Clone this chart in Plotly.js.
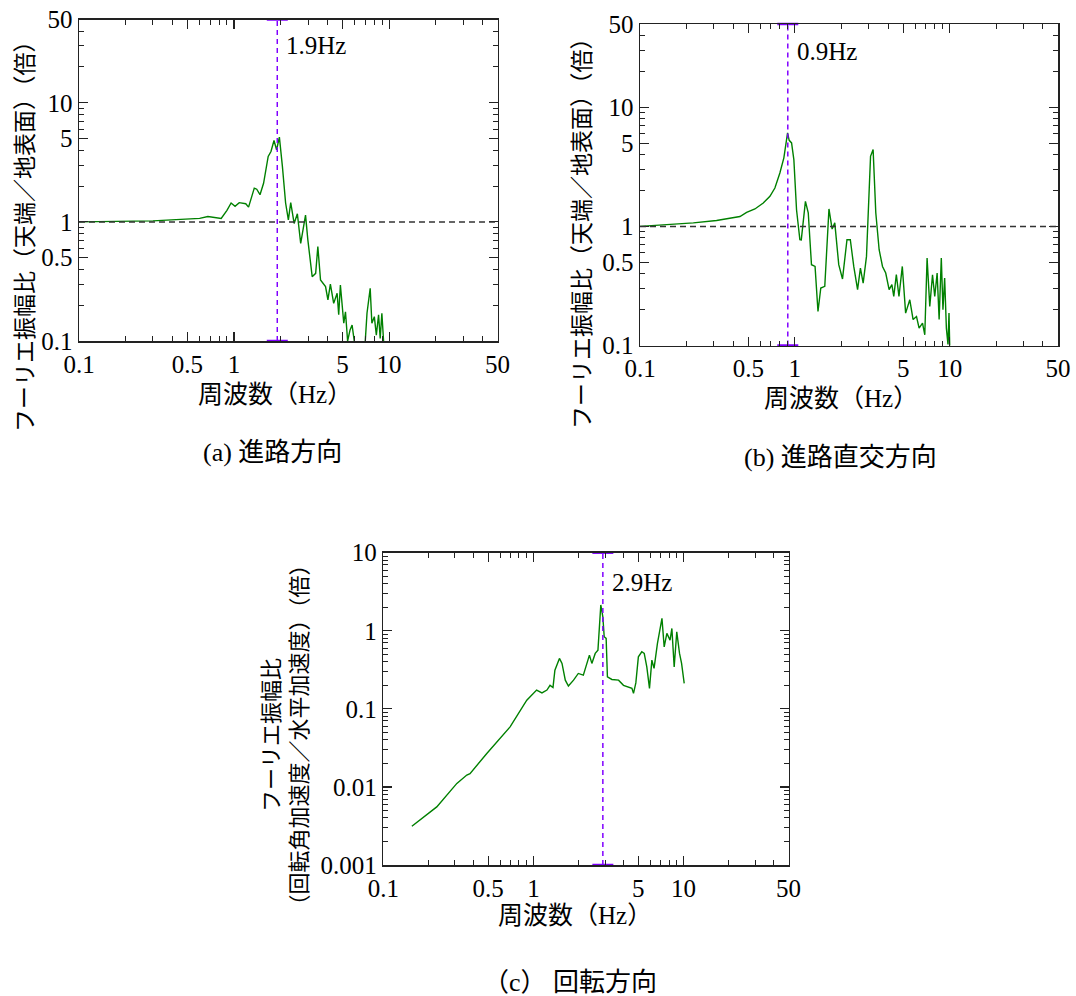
<!DOCTYPE html>
<html><head><meta charset="utf-8">
<script src="https://cdn.plot.ly/plotly-3.0.1.min.js"></script>
<style>html,body{margin:0;padding:0;background:#fff}</style>
</head><body>
<div id="chart" style="width:1076px;height:996px"></div>
<script>
// ---- data ----
const freqA = [0.1, 0.2, 0.3, 0.394, 0.5, 0.6, 0.678, 0.75, 0.826, 0.9, 0.957, 1.015, 1.08, 1.19, 1.24, 1.3, 1.35, 1.40, 1.47, 1.55, 1.66, 1.73, 1.81, 1.88, 1.96, 2.05, 2.15, 2.24, 2.32, 2.44, 2.56, 2.69, 2.89, 2.99, 3.19, 3.36, 3.47, 3.61, 3.89, 4.03, 4.18, 4.39, 4.62, 4.73, 4.85, 5.10, 5.23, 5.40, 5.60, 5.77, 5.96, 6.3, 6.7, 7.0, 7.20, 7.55, 7.74, 8.03, 8.27, 8.55, 8.76, 8.98, 9.21];
const ampA = [1.0, 1.01, 1.02, 1.04, 1.05, 1.07, 1.11, 1.09, 1.07, 1.25, 1.44, 1.35, 1.45, 1.42, 1.33, 1.63, 1.92, 1.88, 1.69, 2.11, 3.54, 3.90, 4.82, 4.03, 5.14, 2.92, 1.44, 1.04, 1.45, 0.97, 1.17, 0.66, 1.14, 0.71, 0.347, 0.37, 0.62, 0.326, 0.286, 0.221, 0.30, 0.207, 0.252, 0.166, 0.295, 0.141, 0.176, 0.1, 0.124, 0.136, 0.1, 0.085, 0.088, 0.095, 0.171, 0.277, 0.141, 0.16, 0.112, 0.166, 0.105, 0.171, 0.1];

const freqB = [0.1, 0.221, 0.312, 0.442, 0.488, 0.552, 0.625, 0.69, 0.743, 0.80, 0.849, 0.897, 0.919, 0.952, 0.985, 1.025, 1.077, 1.10, 1.17, 1.22, 1.28, 1.35, 1.41, 1.47, 1.56, 1.66, 1.74, 1.81, 1.92, 2.03, 2.17, 2.28, 2.40, 2.54, 2.65, 2.76, 2.90, 3.08, 3.20, 3.33, 3.50, 3.68, 3.86, 4.06, 4.23, 4.35, 4.52, 4.70, 4.94, 5.19, 5.52, 5.80, 6.10, 6.34, 6.67, 6.90, 7.14, 7.43, 7.74, 8.00, 8.29, 8.54, 8.82, 9.04, 9.27, 9.51, 9.74, 9.89, 10.0];
const ampB = [1.0, 1.07, 1.12, 1.21, 1.31, 1.40, 1.57, 1.79, 2.10, 2.81, 3.76, 6.09, 5.28, 5.02, 3.63, 1.38, 0.773, 0.77, 1.62, 1.30, 0.477, 0.461, 0.193, 0.304, 0.314, 1.40, 0.95, 1.07, 0.477, 0.362, 0.773, 0.773, 0.461, 0.294, 0.447, 0.334, 0.56, 3.87, 4.41, 1.30, 0.637, 0.461, 0.406, 0.294, 0.324, 0.258, 0.393, 0.258, 0.461, 0.187, 0.242, 0.165, 0.175, 0.14, 0.154, 0.123, 0.543, 0.213, 0.393, 0.258, 0.406, 0.165, 0.543, 0.2, 0.369, 0.14, 0.102, 0.187, 0.095];

const freqC = [0.155, 0.227, 0.309, 0.36, 0.378, 0.489, 0.699, 0.903, 1.05, 1.14, 1.23, 1.29, 1.35, 1.39, 1.49, 1.55, 1.63, 1.71, 1.85, 1.99, 2.15, 2.24, 2.36, 2.45, 2.58, 2.69, 2.81, 2.90, 2.96, 3.05, 3.11, 3.33, 3.69, 3.98, 4.30, 4.53, 4.64, 4.81, 5.0, 5.27, 5.47, 5.69, 5.93, 6.15, 6.36, 6.70, 7.18, 7.43, 7.74, 8.13, 8.36, 8.66, 9.01, 9.40, 9.70, 10.1];
const ampC = [0.00313, 0.00555, 0.0111, 0.0142, 0.0148, 0.0268, 0.0588, 0.129, 0.174, 0.16, 0.174, 0.20, 0.188, 0.313, 0.443, 0.382, 0.233, 0.196, 0.233, 0.284, 0.27, 0.363, 0.488, 0.382, 0.513, 0.565, 2.14, 1.51, 0.838, 0.80, 0.257, 0.238, 0.233, 0.20, 0.191, 0.183, 0.158, 0.215, 0.464, 0.538, 0.513, 0.345, 0.183, 0.421, 0.33, 0.69, 1.44, 0.62, 0.925, 0.76, 1.07, 0.345, 0.97, 0.513, 0.382, 0.212];

const peakA = 1.9, peakB = 0.9, peakC = 2.9;
const peakLabels = ['1.9Hz', '0.9Hz', '2.9Hz'];

const xTickVals = [0.1, 0.5, 1, 5, 10, 50];
const xTickText = ['0.1', '0.5', '1', '5', '10', '50'];
const yTickValsAB = [0.1, 0.5, 1, 5, 10, 50];
const yTickTextAB = ['0.1', '0.5', '1', '5', '10', '50'];
const yTickValsC = [0.001, 0.01, 0.1, 1, 10];
const yTickTextC = ['0.001', '0.01', '0.1', '1', '10'];

const xRange = [0.1, 50];
const yRangeAB = [0.1, 50];
const yRangeC = [0.001, 10];

const xTitle = '周波数（Hz）';
const yTitleAB = 'フーリエ振幅比（天端／地表面）（倍）';
const yTitleC = 'フーリエ振幅比<br>（回転角加速度／水平加速度）（倍）';
const captions = ['(a) 進路方向', '(b) 進路直交方向', '（c） 回転方向'];

// ---- helpers ----
function minorVals(lo, hi) {
  const v = [];
  for (let d = Math.floor(Math.log10(lo)); d <= Math.ceil(Math.log10(hi)); d++) {
    for (let k = 2; k <= 9; k++) {
      const t = k * Math.pow(10, d);
      if (t > lo && t < hi) v.push(t);
    }
  }
  return v;
}
const SERIF = 'Liberation Serif, Times New Roman, serif';
const JP = 'Liberation Serif, Noto Sans CJK JP, sans-serif';
const AXC = '#222';
function axis(domain, anchor, range, tv, tt) {
  return {
    type: 'log', domain: domain, anchor: anchor,
    range: [Math.log10(range[0]), Math.log10(range[1])],
    tickmode: 'array', tickvals: tv, ticktext: tt,
    ticks: 'inside', ticklen: 9, tickwidth: 1.2, tickcolor: AXC,
    showline: true, linecolor: AXC, linewidth: 1.5, mirror: 'ticks',
    showgrid: false, zeroline: false, automargin: false, fixedrange: true,
    tickfont: {family: SERIF, size: 25, color: '#000'},
    minor: {ticks: 'inside', ticklen: 5, tickwidth: 1, tickcolor: AXC,
            tickmode: 'array', tickvals: minorVals(range[0], range[1]), showgrid: false}
  };
}
const GREEN = '#008000';
const PURPLE = '#8000ff';
function dataTrace(x, y, xa, ya) {
  return {x: x, y: y, xaxis: xa, yaxis: ya, mode: 'lines', type: 'scatter',
          line: {color: GREEN, width: 1.4}, hoverinfo: 'skip'};
}
function peakTrace(p, yr, xa, ya) {
  return {x: [p, p], y: yr, xaxis: xa, yaxis: ya, mode: 'lines+markers', type: 'scatter',
          cliponaxis: false,
          line: {color: PURPLE, width: 1.5, dash: '5px,4px'},
          marker: {symbol: 'line-ew', size: 15, color: PURPLE, line: {color: PURPLE, width: 2.5}},
          hoverinfo: 'skip'};
}

const traces = [
  dataTrace(freqA, ampA, 'x', 'y'),
  dataTrace(freqB, ampB, 'x2', 'y2'),
  dataTrace(freqC, ampC, 'x3', 'y3'),
  peakTrace(peakA, yRangeAB, 'x', 'y'),
  peakTrace(peakB, yRangeAB, 'x2', 'y2'),
  peakTrace(peakC, yRangeC, 'x3', 'y3')
];

const W = 1076, H = 996;
const px = v => v / W, py = v => 1 - v / H;

function hline(xr, yr) {
  return {type: 'line', xref: xr + ' domain', x0: 0, x1: 1, yref: yr, y0: 1, y1: 1,
          line: {color: '#333', width: 1.5, dash: '6px,4px'}};
}
function peakNote(p, txt, xr, yr, yy) {
  return {xref: xr, yref: yr + ' domain', x: Math.log10(p), y: yy, text: txt,
          showarrow: false, xanchor: 'left', yanchor: 'middle', xshift: 7,
          font: {family: SERIF, size: 25, color: '#000'}};
}
function note(x, y, txt, size, angle) {
  return {xref: 'paper', yref: 'paper', x: px(x), y: py(y), text: txt, showarrow: false,
          xanchor: 'center', yanchor: 'middle', textangle: angle || 0,
          font: {family: JP, size: size, color: '#000'}};
}

const layout = {
  width: W, height: H, margin: {l: 0, r: 0, t: 0, b: 0},
  paper_bgcolor: '#fff', plot_bgcolor: '#fff', showlegend: false,
  xaxis: axis([px(79), px(497.5)], 'y', xRange, xTickVals, xTickText),
  yaxis: axis([py(341), py(19.5)], 'x', yRangeAB, yTickValsAB, yTickTextAB),
  xaxis2: axis([px(640), px(1058)], 'y2', xRange, xTickVals, xTickText),
  yaxis2: axis([py(345.5), py(24)], 'x2', yRangeAB, yTickValsAB, yTickTextAB),
  xaxis3: axis([px(383.3), px(788.5)], 'y3', xRange, xTickVals, xTickText),
  yaxis3: axis([py(865), py(552.7)], 'x3', yRangeC, yTickValsC, yTickTextC),
  shapes: [hline('x', 'y'), hline('x2', 'y2')],
  annotations: [
    peakNote(peakA, peakLabels[0], 'x', 'y', 0.92),
    peakNote(peakB, peakLabels[1], 'x2', 'y2', 0.915),
    peakNote(peakC, peakLabels[2], 'x3', 'y3', 0.905),
    note(275, 394, xTitle, 25),
    note(841, 398, xTitle, 25),
    note(575, 915, xTitle, 25),
    note(25, 231, yTitleAB, 23, -90),
    note(583, 228, yTitleAB, 23, -90),
    note(285.5, 735, yTitleC, 22, -90),
    note(272, 452, captions[0], 26),
    note(840, 458, captions[1], 26),
    note(570, 982, captions[2], 26)
  ]
};

Plotly.newPlot('chart', traces, layout, {staticPlot: true, displayModeBar: false});
</script>
</body></html>
